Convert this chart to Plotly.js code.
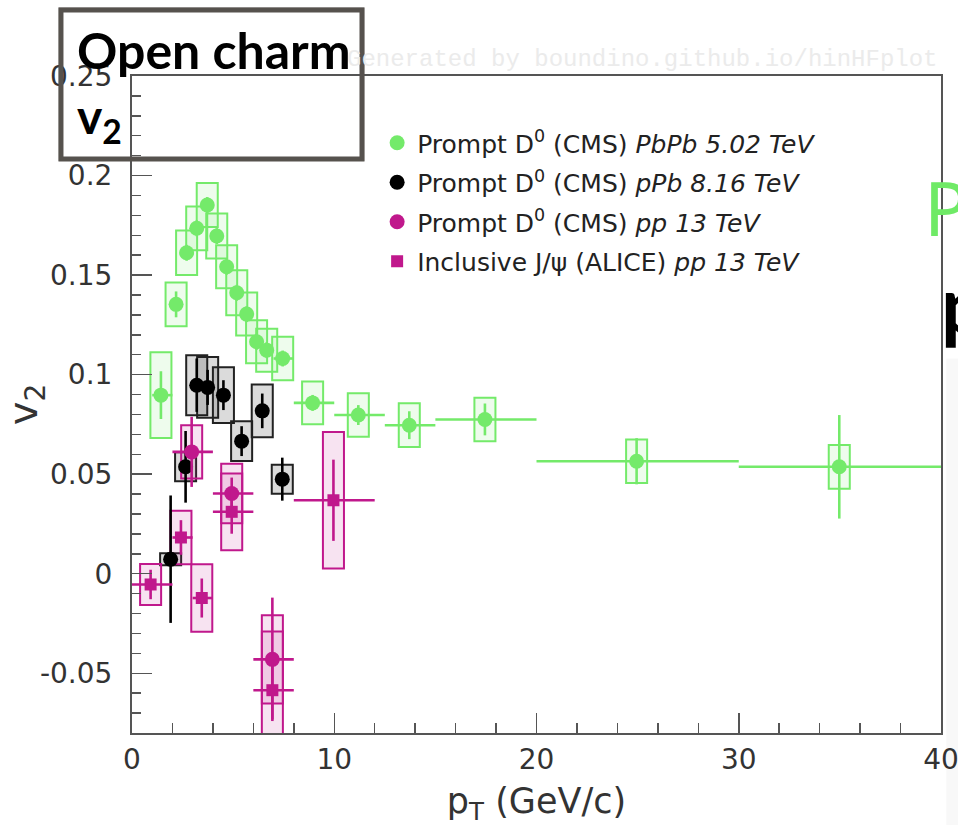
<!DOCTYPE html>
<html>
<head>
<meta charset="utf-8">
<script src="https://cdn.plot.ly/plotly-3.0.1.min.js"></script>
<style>
  html, body { margin: 0; padding: 0; background: #ffffff; }
  #chart { width: 958px; height: 826px; }
</style>
</head>
<body>
<div id="chart"></div>
<script>
// Prompt D0 (CMS) PbPb 5.02 TeV
const ptPbPb   = [1.43, 2.18, 2.70, 3.20, 3.72, 4.19, 4.68, 5.18, 5.67, 6.16, 6.66, 7.45, 8.93, 11.19, 13.71, 17.45, 24.95, 34.97];
const loPbPb   = [1.0, 2.0, 2.5, 3.0, 3.5, 4.0, 4.5, 5.0, 5.5, 6.0, 6.5, 7.0, 8.0, 10.0, 12.5, 15.0, 20.0, 30.0];
const hiPbPb   = [2.0, 2.5, 3.0, 3.5, 4.0, 4.5, 5.0, 5.5, 6.0, 6.5, 7.0, 8.0, 10.0, 12.5, 15.0, 20.0, 30.0, 40.0];
const v2PbPb   = [0.0897, 0.1353, 0.1612, 0.1735, 0.1852, 0.1696, 0.1542, 0.1411, 0.1304, 0.1165, 0.1123, 0.1081, 0.0858, 0.0797, 0.0746, 0.0775, 0.0565, 0.0537];
const statPbPb = [0.012, 0.0065, 0.004, 0.004, 0.004, 0.004, 0.004, 0.004, 0.004, 0.004, 0.004, 0.004, 0.004, 0.005, 0.007, 0.008, 0.0116, 0.026];
const systPbPb = [0.0215, 0.011, 0.0112, 0.011, 0.011, 0.0113, 0.0108, 0.0113, 0.0108, 0.0108, 0.0108, 0.0109, 0.0107, 0.0109, 0.011, 0.0109, 0.0109, 0.011];

// Prompt D0 (CMS) pPb 8.16 TeV
const ptPPb   = [1.91, 2.65, 3.20, 3.74, 4.52, 5.42, 6.44, 7.43];
const v2PPb   = [0.0073, 0.0537, 0.0947, 0.0936, 0.0897, 0.0666, 0.0818, 0.0475];
const statPPb = [0.032, 0.018, 0.0134, 0.0088, 0.0075, 0.0075, 0.0087, 0.0108];
const systPPb = [0.003, 0.0073, 0.0151, 0.0152, 0.014, 0.01, 0.0133, 0.0073];

// Prompt D0 (CMS) pp 13 TeV
const ptPP   = [2.95, 4.93, 6.94];
const loPP   = [2.0, 4.0, 6.0];
const hiPP   = [4.0, 6.0, 8.0];
const v2PP   = [0.0612, 0.0403, -0.043];
const statPP = [0.0176, 0.008, 0.031];
const systPP = [0.0134, 0.015, 0.0222];

// Inclusive J/psi (ALICE) pp 13 TeV
const ptJpsi   = [0.92, 2.42, 3.45, 4.93, 6.94, 9.96];
const loJpsi   = [0.0, 2.0, 3.0, 4.0, 6.0, 8.0];
const hiJpsi   = [2.0, 3.0, 4.0, 6.0, 8.0, 12.0];
const v2Jpsi   = [-0.0054, 0.0182, -0.0122, 0.0311, -0.0585, 0.0369];
const statJpsi = [0.0074, 0.0087, 0.0098, 0.011, 0.0147, 0.0204];
const systJpsi = [0.0103, 0.0134, 0.017, 0.0193, 0.0295, 0.0343];

// Axis ticks
const xTickVals = [0, 10, 20, 30, 40];
const xTickText = ['0', '10', '20', '30', '40'];
const yTickVals = [-0.05, 0, 0.05, 0.1, 0.15, 0.2, 0.25];
const yTickText = ['-0.05', '0', '0.05', '0.1', '0.15', '0.2', '0.25'];

// Legend labels
const labels = [
  'Prompt D<sup>0</sup> (CMS) <i>PbPb 5.02 TeV</i>',
  'Prompt D<sup>0</sup> (CMS) <i>pPb 8.16 TeV</i>',
  'Prompt D<sup>0</sup> (CMS) <i>pp 13 TeV</i>',
  'Inclusive J/\u03C8 (ALICE) <i>pp 13 TeV</i>'
];

const GREEN = '#74ea6a';
const BLACK = '#000000';
const MAGENTA = '#c0188c';
const BOX_HALF = 0.52;
const FONT = 'DejaVu Sans, Liberation Sans, Arial, sans-serif';

// Systematic-uncertainty boxes drawn on data coordinates
function boxes(x, y, syst, stroke, fill) {
  return x.map((xi, i) => ({
    type: 'rect', xref: 'x', yref: 'y', layer: 'below',
    x0: xi - BOX_HALF, x1: xi + BOX_HALF,
    y0: y[i] - syst[i], y1: y[i] + syst[i],
    line: { color: stroke, width: 2 }, fillcolor: fill
  }));
}

function minus(x, lo) { return x.map((v, i) => v - lo[i]); }
function plus(x, hi) { return x.map((v, i) => hi[i] - v); }

function series(x, y, stat, lo, hi, name, group, color, symbol, size) {
  const t = {
    type: 'scatter', mode: 'markers', x: x, y: y, name: name,
    legendgroup: group, cliponaxis: true,
    marker: { color: color, symbol: symbol, size: size, line: { width: 0 } },
    error_y: { type: 'data', array: stat, visible: true, color: color, thickness: 2.6, width: 0 }
  };
  if (lo) {
    t.error_x = { type: 'data', symmetric: false, array: plus(x, hi), arrayminus: minus(x, lo),
                  visible: true, color: color, thickness: 2.6, width: 0 };
  }
  return t;
}

const traces = [
  series(ptPbPb, v2PbPb, statPbPb, loPbPb, hiPbPb, labels[0], 'a', GREEN, 'circle', 15),
  series(ptPPb, v2PPb, statPPb, null, null, labels[1], 'b', BLACK, 'circle', 15),
  series(ptPP, v2PP, statPP, loPP, hiPP, labels[2], 'c', MAGENTA, 'circle', 15),
  series(ptJpsi, v2Jpsi, statJpsi, loJpsi, hiJpsi, labels[3], 'd', MAGENTA, 'square', 12)
];

const shapes = [].concat(
  boxes(ptPbPb, v2PbPb, systPbPb, GREEN, 'rgba(116,234,106,0.12)'),
  boxes(ptPPb, v2PPb, systPPb, '#222222', 'rgba(0,0,0,0.14)'),
  boxes(ptPP, v2PP, systPP, MAGENTA, 'rgba(192,24,140,0.12)'),
  boxes(ptJpsi, v2Jpsi, systJpsi, MAGENTA, 'rgba(192,24,140,0.12)'),
  [
    // faint panel edge on the right
    { type: 'rect', xref: 'paper', yref: 'paper', layer: 'below',
      x0: 1.0065, x1: 1.03, y0: -0.14, y1: 0.57,
      line: { width: 0 }, fillcolor: 'rgba(0,0,0,0.028)' },
    // hand-drawn style frame around the slide title
    { type: 'rect', xref: 'paper', yref: 'paper', layer: 'above',
      x0: -0.0878, x1: 0.2843, y0: 0.8737, y1: 1.1005,
      line: { color: '#56524e', width: 5 }, fillcolor: 'rgba(0,0,0,0)' },
    { type: 'rect', xref: 'paper', yref: 'paper', layer: 'above',
      x0: -0.0895, x1: 0.2860, y0: 0.8720, y1: 1.1030,
      line: { color: 'rgba(86,82,78,0.45)', width: 2 }, fillcolor: 'rgba(0,0,0,0)' }
  ]
);

const annotations = [
  { xref: 'paper', yref: 'paper', x: 0.9988, y: 1.0244, xanchor: 'right', yanchor: 'middle',
    text: 'Generated by boundino.github.io/hinHFplot', showarrow: false,
    font: { family: 'Liberation Mono, DejaVu Sans Mono, monospace', size: 24, color: '#ebebeb' } },
  { xref: 'paper', yref: 'paper', x: -0.0705, y: 1.0396, xanchor: 'left', yanchor: 'middle',
    text: '<b>Open charm</b>', showarrow: false,
    font: { family: 'Lato, sans-serif', size: 50, color: '#000000', weight: 900 } },
  { xref: 'paper', yref: 'paper', x: -0.0705, y: 0.935, xanchor: 'left', yanchor: 'middle',
    text: '<b>v<sub>2</sub></b>', showarrow: false,
    font: { family: 'Lato, sans-serif', size: 48, color: '#000000', weight: 900 } },
  { xref: 'paper', yref: 'paper', x: 0.976, y: 0.80, xanchor: 'left', yanchor: 'middle',
    text: 'PbPb', showarrow: false,
    font: { family: 'Noto Sans, sans-serif', size: 74, color: '#6fea66' } },
  { xref: 'paper', yref: 'paper', x: 0.9975, y: 0.655, xanchor: 'left', yanchor: 'middle',
    text: '<b>pPb</b>', showarrow: false,
    font: { family: 'Lato, sans-serif', size: 80, color: '#000000' } }
];

const axisCommon = {
  showline: true, linecolor: '#555555', linewidth: 2, mirror: true,
  ticks: 'inside', tickcolor: '#555555', tickwidth: 1.5, ticklen: 20,
  showgrid: false, zeroline: false, ticklabeloverflow: 'allow',
  tickfont: { family: FONT, size: 28, color: '#333333' }
};

const layout = {
  width: 958, height: 826,
  margin: { l: 132, r: 17, t: 76, b: 93 },
  paper_bgcolor: '#ffffff', plot_bgcolor: '#ffffff',
  showlegend: true,
  legend: {
    x: 0.303, xanchor: 'left', y: 0.933, yanchor: 'top',
    bgcolor: 'rgba(0,0,0,0)', borderwidth: 0,
    font: { family: FONT, size: 25, color: '#222222' },
    tracegroupgap: 4, traceorder: 'grouped'
  },
  xaxis: Object.assign({}, axisCommon, {
    range: [0, 40.0001], tickmode: 'array', tickvals: xTickVals, ticktext: xTickText,
    ticklabelstandoff: 0,
    minor: { tick0: 0, dtick: 2, ticks: 'inside', ticklen: 10, tickcolor: '#555555', tickwidth: 1.5, showgrid: false },
    title: { text: 'p<sub>T</sub> (GeV/c)', font: { family: FONT, size: 35, color: '#333333' }, standoff: 17 }
  }),
  yaxis: Object.assign({}, axisCommon, {
    range: [-0.08, 0.25], tickmode: 'array', tickvals: yTickVals, ticktext: yTickText,
    ticklabelstandoff: 12,
    minor: { tick0: 0, dtick: 0.01, ticks: 'inside', ticklen: 9, tickcolor: '#555555', tickwidth: 1.5, showgrid: false },
    title: { text: 'v<sub>2</sub>', font: { family: FONT, size: 40, color: '#333333' }, standoff: 4 }
  }),
  shapes: shapes,
  annotations: annotations
};

Plotly.newPlot('chart', traces, layout, { displayModeBar: false, staticPlot: true });
</script>
</body>
</html>
